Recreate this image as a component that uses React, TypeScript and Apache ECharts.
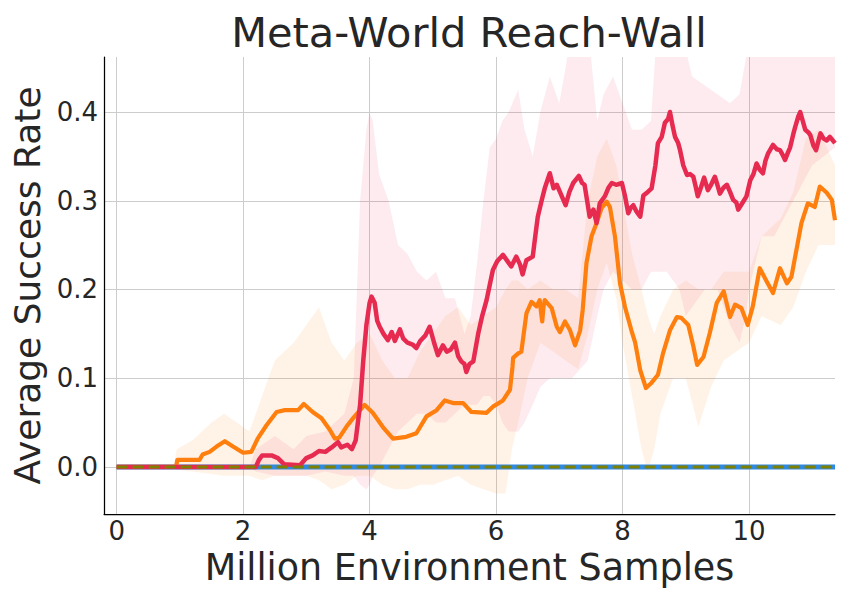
import React, { useEffect, useRef } from "react";
import * as echarts from "echarts";

const TITLE = "Meta-World Reach-Wall";
const X_LABEL = "Million Environment Samples";
const Y_LABEL = "Average Success Rate";
const X_TICKS = [0, 2, 4, 6, 8, 10];
const Y_TICKS = [0, 0.1, 0.2, 0.3, 0.4];

const redMean: number[][] = [
  [0, 0], [2.2, 0], [2.25, 0.008], [2.3, 0.013], [2.45, 0.013], [2.55, 0.01], [2.65, 0.003], [2.9, 0.002],
  [3.0, 0.01], [3.1, 0.013], [3.2, 0.018], [3.3, 0.017], [3.4, 0.022], [3.5, 0.028], [3.55, 0.022], [3.65, 0.025],
  [3.72, 0.02], [3.78, 0.03], [3.85, 0.07], [3.9, 0.12], [3.95, 0.16], [4.0, 0.185], [4.03, 0.192], [4.08, 0.185],
  [4.12, 0.165], [4.16, 0.158], [4.22, 0.15], [4.29, 0.143], [4.35, 0.152], [4.4, 0.142], [4.48, 0.155], [4.53, 0.145],
  [4.6, 0.14], [4.68, 0.138], [4.74, 0.134], [4.8, 0.142], [4.88, 0.148], [4.95, 0.158], [5.02, 0.14], [5.08, 0.126],
  [5.16, 0.137], [5.22, 0.13], [5.28, 0.132], [5.35, 0.14], [5.4, 0.125], [5.45, 0.119], [5.5, 0.116], [5.53, 0.107],
  [5.58, 0.116], [5.64, 0.119], [5.68, 0.135], [5.72, 0.151], [5.78, 0.17], [5.85, 0.188], [5.9, 0.205], [5.95, 0.222],
  [6.02, 0.232], [6.11, 0.239], [6.18, 0.232], [6.24, 0.226], [6.32, 0.237], [6.38, 0.228], [6.42, 0.217], [6.48, 0.233],
  [6.58, 0.237], [6.62, 0.26], [6.66, 0.282], [6.72, 0.3], [6.77, 0.314], [6.85, 0.331], [6.91, 0.314], [6.96, 0.318],
  [7.01, 0.31], [7.1, 0.295], [7.16, 0.31], [7.22, 0.32], [7.31, 0.328], [7.36, 0.32], [7.4, 0.318], [7.44, 0.3],
  [7.48, 0.282], [7.54, 0.29], [7.59, 0.275], [7.64, 0.297], [7.72, 0.305], [7.78, 0.315], [7.83, 0.32], [7.9, 0.318],
  [7.99, 0.32], [8.04, 0.305], [8.09, 0.286], [8.13, 0.292], [8.17, 0.295], [8.22, 0.288], [8.28, 0.282], [8.33, 0.306],
  [8.4, 0.31], [8.46, 0.314], [8.52, 0.34], [8.56, 0.365], [8.62, 0.372], [8.67, 0.388], [8.72, 0.392], [8.75, 0.4],
  [8.79, 0.385], [8.83, 0.372], [8.88, 0.365], [8.91, 0.357], [8.96, 0.34], [9.02, 0.329], [9.07, 0.33], [9.12, 0.327],
  [9.16, 0.315], [9.19, 0.305], [9.24, 0.315], [9.29, 0.326], [9.35, 0.312], [9.4, 0.318], [9.46, 0.327], [9.5, 0.318],
  [9.54, 0.308], [9.6, 0.315], [9.65, 0.318], [9.7, 0.31], [9.75, 0.301], [9.8, 0.298], [9.83, 0.29], [9.9, 0.298],
  [9.96, 0.305], [10.02, 0.323], [10.07, 0.33], [10.12, 0.342], [10.17, 0.335], [10.22, 0.331], [10.26, 0.345], [10.3, 0.353],
  [10.38, 0.363], [10.44, 0.358], [10.49, 0.357], [10.53, 0.352], [10.57, 0.346], [10.62, 0.355], [10.65, 0.36], [10.7, 0.375],
  [10.73, 0.383], [10.78, 0.395], [10.81, 0.4], [10.85, 0.39], [10.89, 0.38], [10.94, 0.377], [10.97, 0.374], [11.02, 0.362],
  [11.06, 0.357], [11.1, 0.368], [11.13, 0.376], [11.18, 0.37], [11.23, 0.368], [11.28, 0.372], [11.36, 0.365],
];

const orangeMean: number[][] = [
  [0, 0], [0.94, 0], [0.96, 0.008], [1.31, 0.008], [1.36, 0.014], [1.47, 0.017], [1.58, 0.023], [1.71, 0.029],
  [1.84, 0.023], [2.0, 0.016], [2.13, 0.017], [2.23, 0.032], [2.37, 0.047], [2.53, 0.062], [2.66, 0.064], [2.87, 0.064],
  [2.96, 0.071], [3.1, 0.062], [3.24, 0.055], [3.37, 0.042], [3.45, 0.032], [3.52, 0.033], [3.63, 0.045], [3.74, 0.055],
  [3.92, 0.07], [4.05, 0.061], [4.21, 0.045], [4.37, 0.032], [4.58, 0.034], [4.74, 0.038], [4.9, 0.057], [5.06, 0.064],
  [5.19, 0.075], [5.32, 0.072], [5.48, 0.072], [5.61, 0.062], [5.85, 0.061], [5.95, 0.068], [6.11, 0.075], [6.22, 0.087],
  [6.26, 0.113], [6.27, 0.123], [6.35, 0.128], [6.4, 0.13], [6.48, 0.173], [6.56, 0.186], [6.64, 0.181], [6.69, 0.188],
  [6.71, 0.175], [6.73, 0.164], [6.75, 0.18], [6.77, 0.188], [6.88, 0.179], [6.96, 0.158], [7.01, 0.152], [7.09, 0.164],
  [7.17, 0.154], [7.25, 0.137], [7.33, 0.154], [7.37, 0.177], [7.43, 0.23], [7.51, 0.26], [7.59, 0.275], [7.67, 0.292],
  [7.75, 0.299], [7.8, 0.293], [7.88, 0.26], [7.96, 0.207], [8.04, 0.18], [8.14, 0.154], [8.2, 0.14], [8.28, 0.109],
  [8.37, 0.089], [8.46, 0.095], [8.56, 0.104], [8.64, 0.128], [8.75, 0.154], [8.86, 0.169], [8.93, 0.168], [9.04, 0.16],
  [9.12, 0.136], [9.18, 0.115], [9.28, 0.124], [9.38, 0.151], [9.49, 0.185], [9.6, 0.198], [9.7, 0.169], [9.78, 0.183],
  [9.88, 0.179], [9.98, 0.16], [10.06, 0.181], [10.17, 0.224], [10.28, 0.209], [10.38, 0.196], [10.49, 0.224], [10.6, 0.207],
  [10.67, 0.214], [10.73, 0.237], [10.83, 0.275], [10.93, 0.297], [11.04, 0.293], [11.12, 0.316], [11.23, 0.309], [11.31, 0.301],
  [11.36, 0.278],
];

const blueMean: number[][] = [[0, 0], [11.36, 0]];
const oliveMean: number[][] = [[0, 0], [11.36, 0]];

// [x, lower, upper]
const redBand: number[][] = [
  [0, 0, 0], [2.1, 0, 0], [2.2, -0.005, 0.02], [2.5, -0.01, 0.035], [2.8, -0.01, 0.02], [3.0, -0.01, 0.035],
  [3.3, -0.005, 0.04], [3.6, -0.01, 0.06], [3.75, -0.01, 0.1], [3.85, -0.02, 0.3], [3.95, -0.025, 0.38], [4.0, -0.02, 0.4],
  [4.05, -0.01, 0.39], [4.15, 0.0, 0.33], [4.3, 0.02, 0.3], [4.45, 0.04, 0.25], [4.6, 0.05, 0.24], [4.75, 0.06, 0.22],
  [4.9, 0.06, 0.21], [5.05, 0.05, 0.22], [5.2, 0.05, 0.19], [5.35, 0.06, 0.19], [5.5, 0.07, 0.15], [5.6, 0.07, 0.17],
  [5.7, 0.07, 0.23], [5.8, 0.08, 0.3], [5.9, 0.08, 0.36], [6.0, 0.07, 0.37], [6.1, 0.05, 0.39], [6.2, 0.04, 0.4],
  [6.35, 0.04, 0.425], [6.45, 0.05, 0.38], [6.58, 0.07, 0.35], [6.7, 0.09, 0.4], [6.85, 0.1, 0.44], [7.0, 0.1, 0.41],
  [7.1, 0.1, 0.45], [7.2, 0.1, 0.5], [7.45, 0.12, 0.5], [7.6, 0.17, 0.39], [7.7, 0.2, 0.42], [7.85, 0.22, 0.44],
  [8.0, 0.21, 0.41], [8.15, 0.2, 0.38], [8.3, 0.2, 0.38], [8.45, 0.22, 0.39], [8.55, 0.22, 0.5], [8.7, 0.22, 0.5],
  [8.9, 0.2, 0.5], [9.0, 0.17, 0.47], [9.1, 0.18, 0.44], [9.3, 0.2, 0.43], [9.5, 0.2, 0.42], [9.7, 0.16, 0.41],
  [9.85, 0.14, 0.42], [9.95, 0.17, 0.46], [10.0, 0.2, 0.5], [10.2, 0.26, 0.5], [10.4, 0.26, 0.5], [10.7, 0.3, 0.5],
  [11.0, 0.34, 0.5], [11.36, 0.36, 0.5],
];

const orangeBand: number[][] = [
  [0, 0, 0], [0.9, 0, 0], [0.95, -0.003, 0.02], [1.2, -0.005, 0.03], [1.5, -0.008, 0.05], [1.7, -0.01, 0.06],
  [1.9, -0.01, 0.05], [2.1, -0.01, 0.04], [2.3, -0.015, 0.08], [2.5, -0.01, 0.12], [2.8, -0.01, 0.14], [3.0, -0.01, 0.16],
  [3.2, -0.015, 0.18], [3.4, -0.025, 0.14], [3.6, -0.02, 0.12], [3.8, -0.01, 0.14], [4.0, -0.01, 0.15], [4.2, -0.02, 0.12],
  [4.4, -0.025, 0.1], [4.6, -0.025, 0.1], [4.8, -0.02, 0.13], [5.0, -0.02, 0.15], [5.2, -0.015, 0.17], [5.4, -0.01, 0.18],
  [5.6, -0.02, 0.16], [5.8, -0.025, 0.17], [6.0, -0.03, 0.18], [6.15, -0.03, 0.2], [6.25, 0.02, 0.21], [6.35, 0.05, 0.21],
  [6.5, 0.1, 0.2], [6.7, 0.14, 0.21], [6.9, 0.13, 0.2], [7.1, 0.12, 0.2], [7.3, 0.11, 0.19], [7.45, 0.15, 0.3],
  [7.6, 0.2, 0.35], [7.75, 0.23, 0.37], [7.9, 0.19, 0.34], [8.0, 0.14, 0.3], [8.15, 0.08, 0.24], [8.3, 0.02, 0.2],
  [8.4, -0.005, 0.17], [8.5, 0.02, 0.15], [8.6, 0.06, 0.17], [8.8, 0.1, 0.2], [9.0, 0.1, 0.21], [9.2, 0.045, 0.2],
  [9.4, 0.09, 0.2], [9.6, 0.12, 0.22], [9.8, 0.13, 0.22], [10.0, 0.14, 0.22], [10.2, 0.17, 0.26], [10.5, 0.16, 0.28],
  [10.7, 0.18, 0.31], [10.9, 0.22, 0.37], [11.1, 0.25, 0.38], [11.36, 0.25, 0.34],
];

const FONT = "DejaVu Sans";
const TEXT = "#262626";
const RED = "#e62a50";
const ORANGE = "#ff7f0e";
const BLUE = "#2f8ae0";
const OLIVE = "#808000";

function bandSeries(name: string, band: number[][], fill: string) {
  return {
    type: "custom",
    name,
    clip: true,
    silent: true,
    z: 1,
    data: band,
    encode: { x: 0, y: [1, 2] },
    renderItem: (params: any, api: any) => {
      if (params.dataIndex !== 0) return { type: "group", children: [] };
      const top = band.map((d) => api.coord([d[0], d[2]]));
      const bot = band.slice().reverse().map((d) => api.coord([d[0], d[1]]));
      return {
        type: "polygon",
        shape: { points: top.concat(bot) },
        style: { fill },
      };
    },
  };
}

function lineSeries(name: string, data: number[][], color: string, width: number, z: number, dash?: number[]) {
  return {
    type: "line",
    name,
    data,
    showSymbol: false,
    symbol: "none",
    z,
    silent: true,
    lineStyle: { color, width, type: dash ? dash : "solid", cap: "butt", join: "round" },
  };
}

export default function App() {
  const ref = useRef<HTMLDivElement>(null);
  useEffect(() => {
    document.body.style.margin = "0";
    const chart = echarts.init(ref.current!, undefined, { renderer: "svg" });
    chart.setOption({
      animation: false,
      backgroundColor: "#ffffff",
      textStyle: { fontFamily: FONT },
      title: {
        text: TITLE,
        left: 464,
        textAlign: "center",
        top: 6,
        textStyle: { fontFamily: FONT, fontSize: 41.5, fontWeight: "normal", color: TEXT },
      },
      grid: { left: 104, right: 15, top: 57, bottom: 86, containLabel: false },
      xAxis: {
        type: "value",
        min: -0.2,
        max: 11.36,
        name: X_LABEL,
        nameLocation: "middle",
        nameGap: 29,
        nameTextStyle: { fontFamily: FONT, fontSize: 36.5, color: TEXT },
        axisLine: { show: true, onZero: false, lineStyle: { color: "#000", width: 1.25 } },
        axisTick: { show: false, customValues: X_TICKS },
        axisLabel: {
          customValues: X_TICKS,
          fontFamily: FONT,
          fontSize: 26,
          color: TEXT,
          margin: 4,
          formatter: (v: number) => String(v),
        },
        splitLine: { show: true, lineStyle: { color: "#cccccc", width: 1 } },
      },
      yAxis: {
        type: "value",
        min: -0.053,
        max: 0.462,
        name: Y_LABEL,
        nameLocation: "middle",
        nameGap: 54,
        nameTextStyle: { fontFamily: FONT, fontSize: 36, color: TEXT },
        axisLine: { show: true, onZero: false, lineStyle: { color: "#000", width: 1.25 } },
        axisTick: { show: false, customValues: Y_TICKS },
        axisLabel: {
          customValues: Y_TICKS,
          fontFamily: FONT,
          fontSize: 26,
          color: TEXT,
          margin: 6,
          formatter: (v: number) => v.toFixed(1),
        },
        splitLine: { show: true, lineStyle: { color: "#cccccc", width: 1 } },
      },
      series: [
        bandSeries("orange band", orangeBand, "rgba(255,127,14,0.095)"),
        bandSeries("red band", redBand, "rgba(230,42,80,0.095)"),
        lineSeries("blue", blueMean, BLUE, 5, 3),
        lineSeries("orange", orangeMean, ORANGE, 4.2, 4),
        lineSeries("red", redMean, RED, 4.5, 5),
        lineSeries("olive", oliveMean, OLIVE, 3, 6, [11, 5]),
      ],
    });
    return () => chart.dispose();
  }, []);
  return <div ref={ref} style={{ width: 850, height: 600 }} />;
}
